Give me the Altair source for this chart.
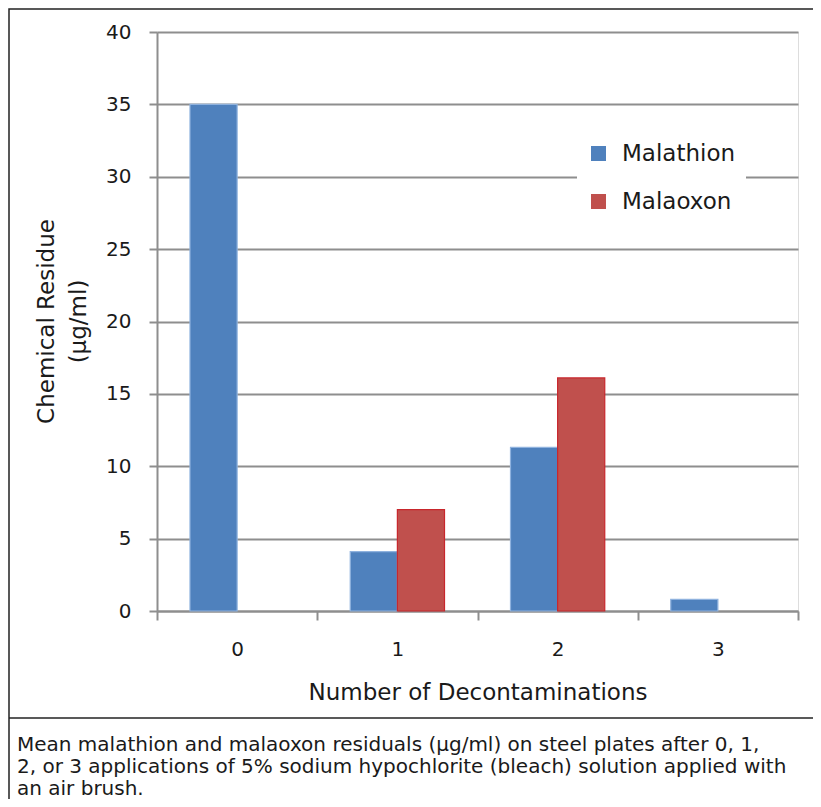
import altair as alt
import pandas as pd

categories = ["0", "1", "2", "3"]
series_names = ["Malathion", "Malaoxon"]
malathion = [35.0, 4.1, 11.3, 0.8]
malaoxon = [0.0, 7.0, 16.1, 0.0]
y_ticks = [0, 5, 10, 15, 20, 25, 30, 35, 40]
caption_lines = [
    "Mean malathion and malaoxon residuals (\u00b5g/ml) on steel plates after 0, 1,",
    "2, or 3 applications of 5% sodium hypochlorite (bleach) solution applied with",
    "an air brush.",
]

rows = []
for c, a, b in zip(categories, malathion, malaoxon):
    rows.append({"n": c, "series": "Malathion", "value": a})
    rows.append({"n": c, "series": "Malaoxon", "value": b})
df = pd.DataFrame(rows)

W, H = 641, 579
FONT = "DejaVu Sans"
GRID = "#8e8e8e"

bars = alt.Chart(df).transform_filter("datum.value > 0").mark_bar(strokeWidth=1.2).encode(
    x=alt.X(
        "n:N",
        sort=categories,
        scale=alt.Scale(domain=categories, paddingInner=0, paddingOuter=0),
        axis=alt.Axis(
            title="Number of Decontaminations",
            labelAngle=0,
            tickBand="extent",
            tickSize=9,
            tickColor=GRID,
            tickWidth=2,
            domainColor=GRID,
            domainWidth=2,
            labelFont=FONT,
            labelFontSize=20,
            labelColor="#1a1a1a",
            labelPadding=19,
            titleFont=FONT,
            titleFontSize=23,
            titleFontWeight="normal",
            titleColor="#1a1a1a",
            titleBaseline="alphabetic",
            titleY=88,
            grid=False,
        ),
    ),
    xOffset=alt.XOffset(
        "series:N",
        sort=series_names,
        scale=alt.Scale(domain=series_names, paddingOuter=0.7, paddingInner=0),
    ),
    y=alt.Y(
        "value:Q",
        scale=alt.Scale(domain=[0, 40], nice=False),
        axis=alt.Axis(
            title=["Chemical Residue", "(\u00b5g/ml)"],
            values=y_ticks,
            tickSize=8,
            tickColor=GRID,
            tickWidth=2,
            domainColor=GRID,
            domainWidth=2,
            grid=True,
            gridColor=GRID,
            gridWidth=2,
            labelFont=FONT,
            labelFontSize=20,
            labelColor="#1a1a1a",
            labelPadding=18,
            titleFont=FONT,
            titleFontSize=23,
            titleFontWeight="normal",
            titleColor="#1a1a1a",
            titleAngle=-90,
            titleBaseline="alphabetic",
            titleAlign="center",
            titleLineHeight=32,
            titleX=-104,
            titleY=289,
        ),
    ),
    color=alt.Color(
        "series:N",
        sort=series_names,
        scale=alt.Scale(domain=series_names, range=["#4F81BD", "#C0504D"]),
        legend=alt.Legend(
            title=None,
            orient="none",
            legendX=420,
            legendY=100,
            fillColor="white",
            padding=10,
            symbolType="square",
            symbolSize=225,
            symbolStrokeWidth=0,
            labelFont=FONT,
            labelFontSize=23,
            labelColor="#1a1a1a",
            labelOffset=12,
            rowPadding=24,
        ),
    ),
    stroke=alt.Stroke(
        "series:N",
        scale=alt.Scale(domain=series_names, range=["#8fb2de", "#C8262C"]),
        legend=None,
    ),
)

one = pd.DataFrame({"k": [0]})

border = alt.Chart(one).mark_rect(fill=None, stroke="#222222", strokeWidth=1.5).encode(
    x=alt.value(-148), x2=alt.value(W + 60), y=alt.value(-23), y2=alt.value(H + 230)
)

divider = alt.Chart(one).mark_rule(color="#222222", strokeWidth=1.5).encode(
    x=alt.value(-148), x2=alt.value(W + 60), y=alt.value(686)
)

caption = alt.Chart(one).mark_text(
    text=caption_lines,
    align="left",
    baseline="alphabetic",
    font="DejaVu Sans",
    fontSize=20,
    lineHeight=22,
    color="#1a1a1a",
).encode(x=alt.value(-140), y=alt.value(719))

chart = alt.layer(bars, border, divider, caption).properties(
    width=W,
    height=H,
    padding={"left": 149, "top": 24, "right": 15, "bottom": 188},
    autosize=alt.AutoSizeParams(type="none"),
).configure_view(stroke=None).configure(background="white")

chart.save("out.html", embed_options={"renderer": "svg", "actions": False})
